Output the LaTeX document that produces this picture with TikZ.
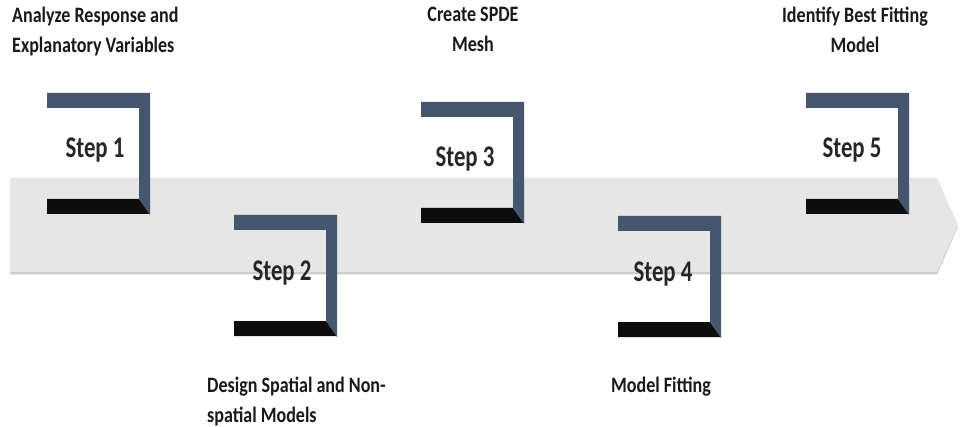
\documentclass[tikz,border=0pt]{standalone}
\usepackage{fontspec}
\setmainfont{Carlito}
\newfontfamily\stepfont[FakeStretch=0.76]{Carlito}
\newfontfamily\narrowfont[FakeStretch=0.82]{Carlito}
\definecolor{framblue}{HTML}{46566F}
\definecolor{frameblack}{HTML}{0D0D0D}
\definecolor{bandgray}{HTML}{E6E6E6}
\definecolor{bandshadow}{HTML}{CDCDCD}
\tikzset{
  stepframe/.pic={
    \fill[frameblack] (0,106) -- (92,106) -- (103,121) -- (0,121) -- cycle;
    \fill[framblue] (0,0) -- (103,0) -- (103,122) -- (92,106) -- (92,15) -- (0,15) -- cycle;
  },
  steplabel/.style={inner sep=0pt, font=\stepfont\bfseries\fontsize{30}{32}\selectfont, text=black!85},
  caption/.style={inner sep=0pt, font=\narrowfont\bfseries\fontsize{22}{29.5}\selectfont, text=black!90}
}
\begin{document}
\begin{tikzpicture}[x=1pt,y=-1pt]
\useasboundingbox (0,0) rectangle (960,427);
\fill[white] (0,0) rectangle (960,427);
% timeline band with its soft shadow
\fill[bandshadow] (10,180) -- (937,180) -- (958,227) -- (937,274.5) -- (10,274.5) -- cycle;
\fill[bandgray] (10,178) -- (937,178) -- (958,225) -- (937,272) -- (10,272) -- cycle;
% step frames
\pic at (47,93) {stepframe};
\pic at (234,215) {stepframe};
\pic at (421,102) {stepframe};
\pic at (618,216) {stepframe};
\pic at (806,93) {stepframe};
% step titles
\node[steplabel, anchor=base] (s1) at (95,158) {Step 1};
\node[steplabel, anchor=base] (s2) at (282,281) {Step 2};
\node[steplabel, anchor=base] (s3) at (465,167) {Step 3};
\node[steplabel, anchor=base] (s4) at (663,282) {Step 4};
\node[steplabel, anchor=base] (s5) at (852,158) {Step 5};
% descriptions
\node[caption, anchor=north west, align=left] (c1) at (12,7) {Analyze Response and\\Explanatory Variables};
\node[caption, anchor=north, align=center] (c3) at (473,7) {Create SPDE\\Mesh};
\node[caption, anchor=north, align=center] (c5) at (855,7) {Identify Best Fitting\\Model};
\node[caption, anchor=north west, align=left] (c2) at (207,377) {Design Spatial and Non-\\spatial Models};
\node[caption, anchor=north] (c4) at (661,377) {Model Fitting};
\end{tikzpicture}
\end{document}
